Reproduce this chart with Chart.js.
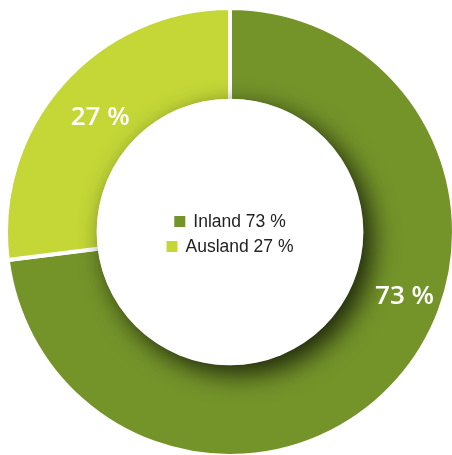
<!DOCTYPE html>
<html lang="de">
<head>
    <meta charset="UTF-8">
    <title>Inland / Ausland</title>
    <script src="https://cdn.jsdelivr.net/npm/chart.js"></script>
    <style>
        html, body {
            margin: 0;
            padding: 0;
            background: #ffffff;
            overflow: hidden;
        }
        canvas {
            display: block;
        }
    </style>
</head>
<body>
    <canvas id="shareChart" width="452" height="455"></canvas>

    <script>
        // Daten
        const categories = ['Inland', 'Ausland'];
        const shares = [73, 27];
        const sliceColors = ['#74942a', '#c4d737'];

        // Schatten des weißen Innenkreises auf dem Ring
        const innerShadow = {
            id: 'innerShadow',
            afterDatasetsDraw(chart) {
                const arc = chart.getDatasetMeta(0).data[0];
                const ctx = chart.ctx;
                ctx.save();
                ctx.shadowColor = 'rgba(0, 0, 0, 0.75)';
                ctx.shadowBlur = 26;
                ctx.shadowOffsetX = 9;
                ctx.shadowOffsetY = 9;
                ctx.fillStyle = '#ffffff';
                ctx.beginPath();
                ctx.arc(arc.x, arc.y, arc.innerRadius + 2, 0, Math.PI * 2);
                ctx.fill();
                ctx.restore();
            }
        };

        // Prozentwerte auf den Segmenten + Legende in der Mitte
        const sliceLabels = {
            id: 'sliceLabels',
            afterDraw(chart, args, opts) {
                const ctx = chart.ctx;
                const meta = chart.getDatasetMeta(0);
                const values = chart.data.datasets[0].data;

                ctx.save();
                ctx.fillStyle = '#ffffff';
                ctx.font = '600 26px "Open Sans", sans-serif';
                ctx.textAlign = 'center';
                ctx.textBaseline = 'middle';
                meta.data.forEach((arc, i) => {
                    const mid = (arc.startAngle + arc.endAngle) / 2 + (opts.angleShift[i] || 0);
                    const r = arc.innerRadius + (arc.outerRadius - arc.innerRadius) * opts.radial[i];
                    ctx.fillText(values[i] + ' %', arc.x + Math.cos(mid) * r, arc.y + Math.sin(mid) * r);
                });

                // Legende
                const cx = meta.data[0].x;
                const cy = meta.data[0].y + 2;
                const box = 11, gap = 8, lineH = 25;
                ctx.font = '17.5px "Liberation Sans", Arial, sans-serif';
                ctx.textAlign = 'left';
                const n = chart.data.labels.length;
                chart.data.labels.forEach((lab, i) => {
                    const text = lab + ' ' + values[i] + ' %';
                    const w = box + gap + ctx.measureText(text).width;
                    const x0 = cx - w / 2;
                    const y = cy + (i - (n - 1) / 2) * lineH;
                    ctx.fillStyle = sliceColors[i];
                    ctx.fillRect(x0, y - box / 2, box, box);
                    ctx.fillStyle = '#222222';
                    ctx.fillText(text, x0 + box + gap, y + 1);
                });
                ctx.restore();
            }
        };

        const ctx = document.getElementById('shareChart').getContext('2d');
        new Chart(ctx, {
            type: 'doughnut',
            data: {
                labels: categories,
                datasets: [{
                    data: shares,
                    backgroundColor: sliceColors,
                    borderColor: '#ffffff',
                    borderWidth: 4
                }]
            },
            options: {
                responsive: false,
                animation: false,
                radius: 224,
                cutout: 129,
                layout: {
                    padding: { left: 8, right: 0, top: 10, bottom: 1 }
                },
                plugins: {
                    legend: { display: false },
                    tooltip: { enabled: false },
                    sliceLabels: {
                        angleShift: [-0.37, 0],
                        radial: [0.59, 0.45]
                    }
                }
            },
            plugins: [innerShadow, sliceLabels]
        });
    </script>
</body>
</html>
